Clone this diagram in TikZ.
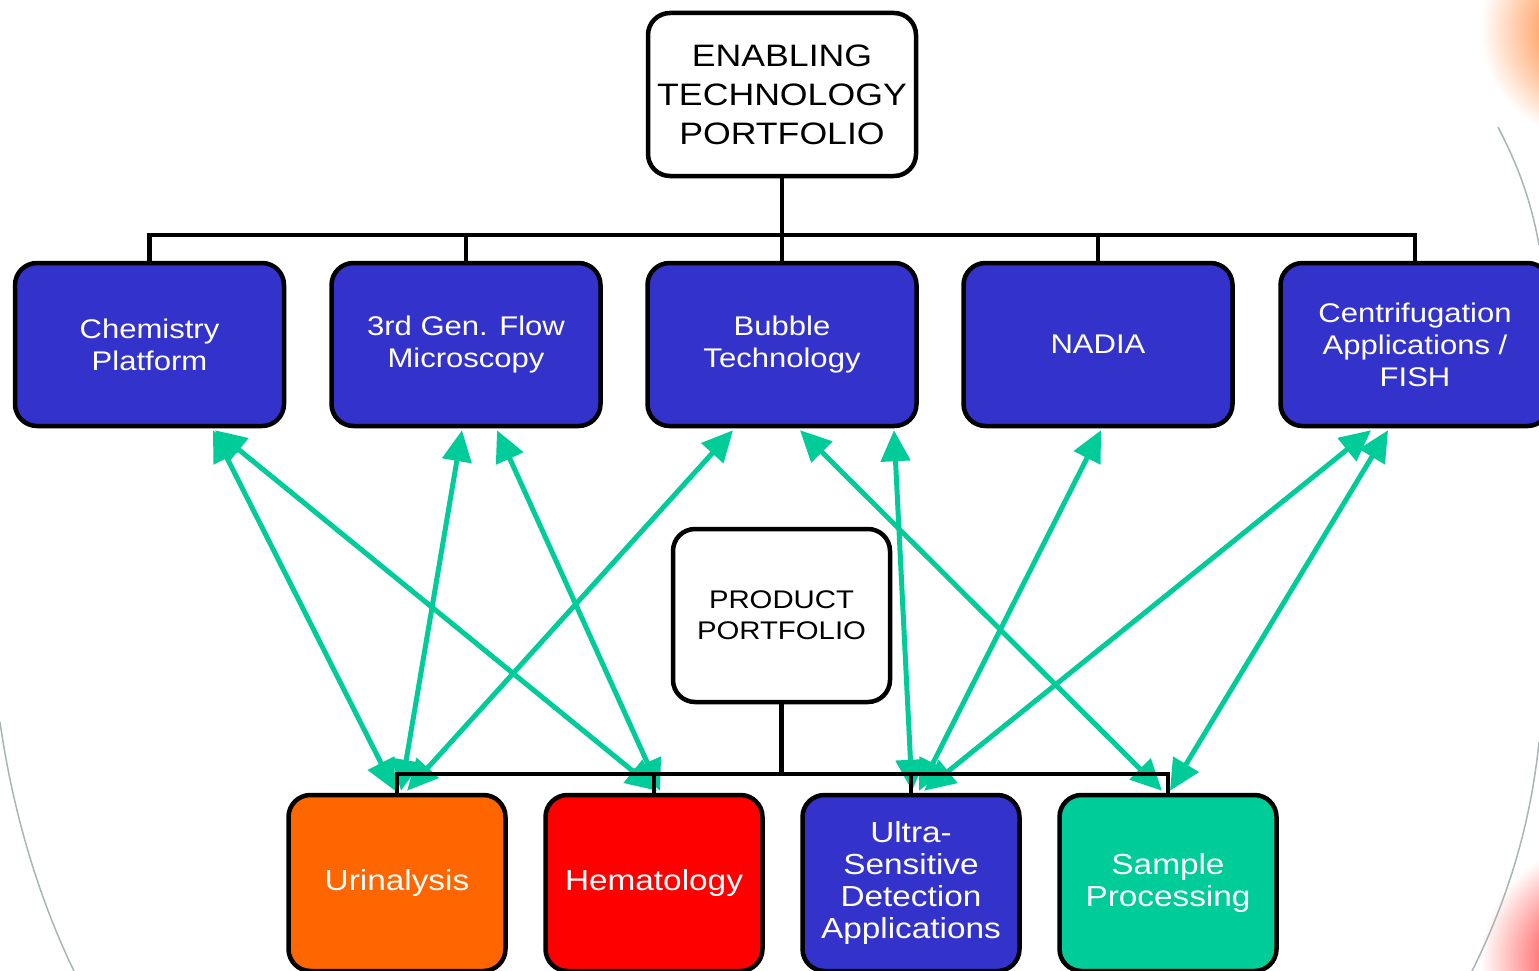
\documentclass[tikz,border=0pt]{standalone}
\usepackage{fontspec}
\setmainfont{Liberation Sans}[FakeStretch=1.15]
\usetikzlibrary{arrows.meta,backgrounds}
\definecolor{boxblue}{RGB}{51,51,204}
\definecolor{tealg}{RGB}{0,204,153}
\definecolor{orng}{RGB}{255,102,0}
\definecolor{arcgray}{RGB}{170,180,180}
\tikzset{
  box/.style={draw=black, line width=4.5pt, rounded corners=22pt, align=center, inner sep=0pt},
  tech/.style={box, fill=boxblue, text=white, minimum width=269pt, minimum height=163pt,
    font=\fontsize{27}{32}\selectfont},
  prodbox/.style={box, minimum width=217pt, minimum height=176pt,
    font=\fontsize{29}{32}\selectfont},
  tree/.style={draw=black, line width=4.5pt},
  link/.style={draw=tealg, line width=5pt,
    {Triangle[length=31pt,width=29pt]}-{Triangle[length=31pt,width=29pt]}},
}
\begin{document}
\begin{tikzpicture}[x=1pt,y=-1pt]
\useasboundingbox (0,0) rectangle (1539,971);
\clip (0,0) rectangle (1539,971);
% background decorations
\shade[inner color=orng, outer color=white] (1590,30) circle (110);
\shade[inner color=red, outer color=white] (1595,960) circle (115);
\draw[arcgray, line width=1.5pt] (0,722) .. controls (14,820) and (42,905) .. (74,971);
\draw[arcgray, line width=1.5pt] (1498,127) .. controls (1515,160) and (1530,195) .. (1539,245);
\draw[arcgray, line width=1.5pt] (1539,742) .. controls (1530,830) and (1505,905) .. (1472,971);

% nodes
\node[box, minimum width=268pt, minimum height=163pt, fill=white,
  font=\fontsize{31}{39}\selectfont] (top) at (782,94.5) {ENABLING\\TECHNOLOGY\\PORTFOLIO};
\node[tech] (c1) at (149.5,344.5) {Chemistry\\Platform};
\node[tech] (c2) at (466,344.5) {3rd Gen. Flow\\Microscopy};
\node[tech] (c3) at (782,344.5) {Bubble\\Technology};
\node[tech] (c4) at (1098,344.5) {NADIA};
\node[tech] (c5) at (1415,344.5) {Centrifugation\\Applications /\\FISH};
\node[box, fill=white, minimum width=217pt, minimum height=173pt,
  font=\fontsize{25.5}{31}\selectfont] (prod) at (781.5,615.5) {PRODUCT\\PORTFOLIO};
\node[prodbox, fill=orng, text=white] (u) at (397,883) {Urinalysis};
\node[prodbox, fill=red, text=white] (h) at (654,883) {Hematology};
\node[prodbox, fill=boxblue, text=white] (ul) at (911,883) {Ultra-\\Sensitive\\Detection\\Applications};
\node[prodbox, fill=tealg, text=white] (sp) at (1168,883) {Sample\\Processing};

% tree connectors
\coordinate (busT) at (0,235);
\coordinate (busB) at (0,774);
\draw[tree] (top.south) -- (top.south |- busT);
\draw[tree] (c1.north) -- (c1.north |- busT) -- (c5.north |- busT) -- (c5.north);
\draw[tree] (c2.north) -- (c2.north |- busT);
\draw[tree] (c3.north) -- (c3.north |- busT);
\draw[tree] (c4.north) -- (c4.north |- busT);
\draw[tree] (prod.south) -- (prod.south |- busB);
\draw[tree] (u.north) -- (u.north |- busB) -- (sp.north |- busB) -- (sp.north);
\draw[tree] (h.north) -- (h.north |- busB);
\draw[tree] (ul.north) -- (ul.north |- busB);

% links
\begin{scope}[on background layer]
\draw[link] ([xshift=63.5pt,yshift=-2pt]c1.south) -- ([xshift=-2pt,yshift=2pt]u.north);
\draw[link] ([xshift=65.5pt,yshift=-2pt]c1.south) -- ([xshift=3pt,yshift=2pt]h.north);
\draw[link] ([xshift=-4pt,yshift=-2pt]c2.south) -- ([xshift=4pt,yshift=2pt]u.north);
\draw[link] ([xshift=31pt,yshift=-2pt]c2.south) -- ([xshift=6pt,yshift=2pt]h.north);
\draw[link] ([xshift=-49pt,yshift=-2pt]c3.south) -- ([xshift=10pt,yshift=2pt]u.north);
\draw[link] ([xshift=18pt,yshift=-2pt]c3.south) -- ([xshift=-6pt,yshift=2pt]sp.north);
\draw[link] ([xshift=112pt,yshift=-2pt]c3.south) -- ([xshift=1pt,yshift=2pt]ul.north);
\draw[link] ([xshift=3pt,yshift=-2pt]c4.south) -- ([xshift=8pt,yshift=2pt]ul.north);
\draw[link] ([xshift=-44pt,yshift=-2pt]c5.south) -- ([xshift=13pt,yshift=2pt]ul.north);
\draw[link] ([xshift=-27pt,yshift=-2pt]c5.south) -- ([xshift=2pt,yshift=2pt]sp.north);
\end{scope}
\end{tikzpicture}
\end{document}
